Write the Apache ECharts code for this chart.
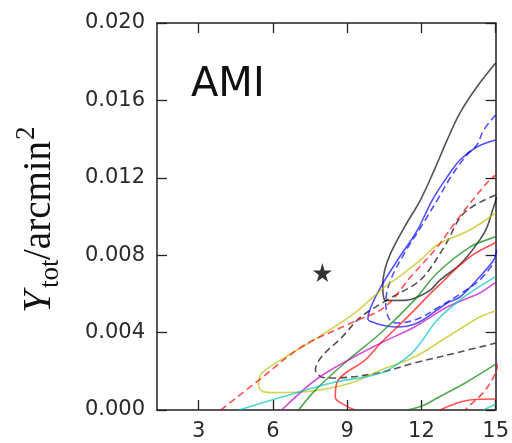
<!DOCTYPE html>
<html>
<head>
<meta charset="utf-8">
<script src="https://cdn.jsdelivr.net/npm/echarts@6/dist/echarts.min.js"></script>
<style>html,body{margin:0;padding:0;background:#fff}#c{width:512px;height:443px}</style>
</head>
<body>
<div id="c"></div>
<script>
// ---- data (x, Y_tot) ----
const xTicks = [3, 6, 9, 12, 15];
const xMin = 1.32, xMax = 15;
const yMin = 0, yMax = 0.020, yStep = 0.004;
const panelLabel = 'AMI';
const star = [[8.0, 0.0071]];

const blackSolid = [[15.0,0.01793],[14.24,0.01669],[13.56,0.01535],[13.04,0.01395],[12.52,0.01240],[11.96,0.01085],[11.32,0.00946],[10.76,0.00811],[10.52,0.00724],[10.44,0.00646],[10.48,0.00579],[10.58,0.00566],[11.44,0.00568],[11.84,0.00584],[12.36,0.00620],[12.76,0.00672],[13.44,0.00739],[13.84,0.00791],[14.36,0.00879],[14.64,0.00941],[14.92,0.01050],[15.04,0.01100]];
const blackDashed = [[15.0,0.01111],[13.72,0.01018],[12.92,0.00842],[11.96,0.00672],[10.76,0.00579],[9.56,0.00481],[8.76,0.00372],[7.96,0.00274],[7.72,0.00207],[7.96,0.00171],[8.36,0.00165],[10.24,0.00191],[11.72,0.00243],[13.56,0.00300],[15.0,0.00346]];
const blueSolid = [[15.0,0.01395],[14.24,0.01359],[13.56,0.01292],[13.04,0.01204],[12.44,0.01085],[11.84,0.00930],[11.04,0.00775],[10.36,0.00636],[9.96,0.00532],[9.84,0.00470],[10.12,0.00450],[10.60,0.00434],[11.04,0.00429],[11.84,0.00450],[12.64,0.00517],[13.04,0.00553],[13.56,0.00584],[14.24,0.00672],[14.92,0.00775],[15.04,0.00827]];
const blueDashed = [[15.0,0.01525],[14.52,0.01447],[14.24,0.01370],[13.84,0.01318],[13.24,0.01214],[12.64,0.01085],[11.96,0.00941],[11.32,0.00811],[10.76,0.00672],[10.56,0.00553],[10.72,0.00465],[11.04,0.00450],[11.84,0.00470],[12.64,0.00527],[13.56,0.00599],[14.36,0.00672],[14.96,0.00765]];
const redDashedA = [[3.90,0.0],[5.44,0.00155],[7.16,0.00326],[9.16,0.00450],[10.52,0.00532],[11.56,0.00687],[12.64,0.00842],[13.44,0.00982],[14.64,0.01173],[15.0,0.01214]];
const redDashedB = [[15.1,0.00240],[14.96,0.00181],[14.52,0.00093],[13.84,0.00010],[13.80,0.0]];
const redSolidA = [[15.0,0.00866],[14.96,0.00863],[13.96,0.00791],[12.64,0.00636],[11.44,0.00481],[10.36,0.00346],[9.72,0.00258],[8.64,0.00155],[8.52,0.00067],[9.04,0.00016],[9.32,0.0]];
const redSolidB = [[12.76,0.0],[13.20,0.00025],[13.96,0.00052],[15.0,0.00057]];
const yellowSolid = [[15.0,0.01018],[13.96,0.00930],[12.64,0.00853],[11.96,0.00775],[10.92,0.00672],[10.52,0.00636],[9.30,0.00501],[7.84,0.00377],[6.52,0.00274],[5.56,0.00191],[5.42,0.00130],[5.56,0.00098],[5.90,0.00090],[7.16,0.00093],[9.16,0.00140],[10.36,0.00207],[11.72,0.00274],[13.04,0.00377],[14.36,0.00481],[15.0,0.00512]];
const greenSolidA = [[7.04,0.0],[7.72,0.00103],[9.04,0.00258],[10.36,0.00398],[11.72,0.00568],[12.64,0.00708],[13.96,0.00842],[14.96,0.00894],[15.0,0.00896]];
const greenSolidB = [[11.44,0.0],[12.12,0.00026],[12.64,0.00062],[13.84,0.00145],[14.96,0.00233],[15.0,0.00235]];
const magentaSolid = [[6.36,0.0],[7.72,0.00155],[9.04,0.00258],[10.36,0.00346],[11.72,0.00429],[13.04,0.00532],[14.36,0.00605],[14.96,0.00656],[15.0,0.00658]];
const cyanSolidA = [[4.64,0.0],[6.36,0.00067],[8.36,0.00140],[10.36,0.00191],[11.44,0.00274],[11.96,0.00346],[12.64,0.00465],[13.72,0.00584],[14.96,0.00687],[15.0,0.00690]];
const cyanSolidB = [[14.5,0.0],[15.0,0.00030]];

// ---- styles ----
const C = {k:'#000000', b:'#0000ff', r:'#ff0000', y:'#bfbf00', g:'#008000', m:'#bf00bf', c:'#00bfbf'};
function contour(data, color, dashed) {
  return {
    type: 'line', data: data, showSymbol: false, symbol: 'none', smooth: 0.35,
    clip: true, silent: true, z: 3,
    lineStyle: {color: color, width: 1.6, opacity: 0.68, type: dashed ? [7, 4] : 'solid'}
  };
}

const frame = {lineStyle: {color: '#222', width: 1.5}};
const tickStyle = {inside: true, length: 10, lineStyle: {color: '#222', width: 1.3}};
const labelFont = {fontFamily: 'DejaVu Sans', fontSize: 21, color: '#2a2a2a'};

const chart = echarts.init(document.getElementById('c'), null, {renderer: 'canvas'});
chart.setOption({
  animation: false,
  backgroundColor: '#fff',
  grid: {left: 157, right: 13, top: 23, bottom: 33, containLabel: false},
  xAxis: [
    {type: 'value', position: 'bottom', min: xMin, max: xMax,
     axisLine: {show: true, onZero: false, ...frame},
     axisTick: {...tickStyle, customValues: xTicks},
     axisLabel: {...labelFont, margin: 11, customValues: xTicks, formatter: v => String(Math.round(v))},
     splitLine: {show: false}},
    {type: 'value', position: 'top', min: xMin, max: xMax,
     axisLine: {show: true, onZero: false, ...frame},
     axisTick: {...tickStyle, customValues: xTicks},
     axisLabel: {show: false, customValues: xTicks},
     splitLine: {show: false}}
  ],
  yAxis: [
    {type: 'value', position: 'left', min: yMin, max: yMax, interval: yStep,
     axisLine: {show: true, onZero: false, ...frame},
     axisTick: tickStyle,
     axisLabel: {...labelFont, margin: 12, formatter: v => v.toFixed(3)},
     splitLine: {show: false}},
    {type: 'value', position: 'right', min: yMin, max: yMax, interval: yStep,
     axisLine: {show: true, onZero: false, ...frame},
     axisTick: tickStyle,
     axisLabel: {show: false},
     splitLine: {show: false}}
  ],
  series: [
    contour(blackSolid, C.k, false),
    contour(blackDashed, C.k, true),
    contour(blueSolid, C.b, false),
    contour(blueDashed, C.b, true),
    contour(yellowSolid, C.y, false),
    contour(greenSolidA, C.g, false),
    contour(greenSolidB, C.g, false),
    contour(redSolidA, C.r, false),
    contour(redSolidB, C.r, false),
    contour(redDashedA, C.r, true),
    contour(redDashedB, C.r, true),
    contour(magentaSolid, C.m, false),
    contour(cyanSolidA, C.c, false),
    contour(cyanSolidB, C.c, false),
    {type: 'scatter', data: star, z: 5, silent: true,
     symbol: 'path://M50,0 L61,35 L98,35 L68,57 L79,91 L50,70 L21,91 L32,57 L2,35 L39,35 Z',
     symbolSize: 19, itemStyle: {color: '#000'}}
  ],
  graphic: [
    {type: 'text', left: 191, top: 66, z: 10, silent: true,
     style: {text: panelLabel, font: '40px "DejaVu Sans"', fill: '#111'}},
    {type: 'group', x: 53, y: 313, rotation: Math.PI / 2, silent: true, z: 10,
     children: [
       {type: 'text', x: 0, y: -13.5, style: {text: 'Y', font: 'italic 40px "Liberation Serif"', fill: '#111', textAlign: 'left', textVerticalAlign: 'middle', align: 'left', verticalAlign: 'middle'}},
       {type: 'text', x: 25, y: -2.5, style: {text: 'tot', font: '27px "Liberation Serif"', fill: '#111', textAlign: 'left', textVerticalAlign: 'middle', align: 'left', verticalAlign: 'middle'}},
       {type: 'text', x: 53, y: -13.5, style: {text: '/arcmin', font: '39px "Liberation Serif"', fill: '#111', textAlign: 'left', textVerticalAlign: 'middle', align: 'left', verticalAlign: 'middle'}},
       {type: 'text', x: 173, y: -26.5, style: {text: '2', font: '27px "Liberation Serif"', fill: '#111', textAlign: 'left', textVerticalAlign: 'middle', align: 'left', verticalAlign: 'middle'}}
     ]}
  ]
});
</script>
</body>
</html>
